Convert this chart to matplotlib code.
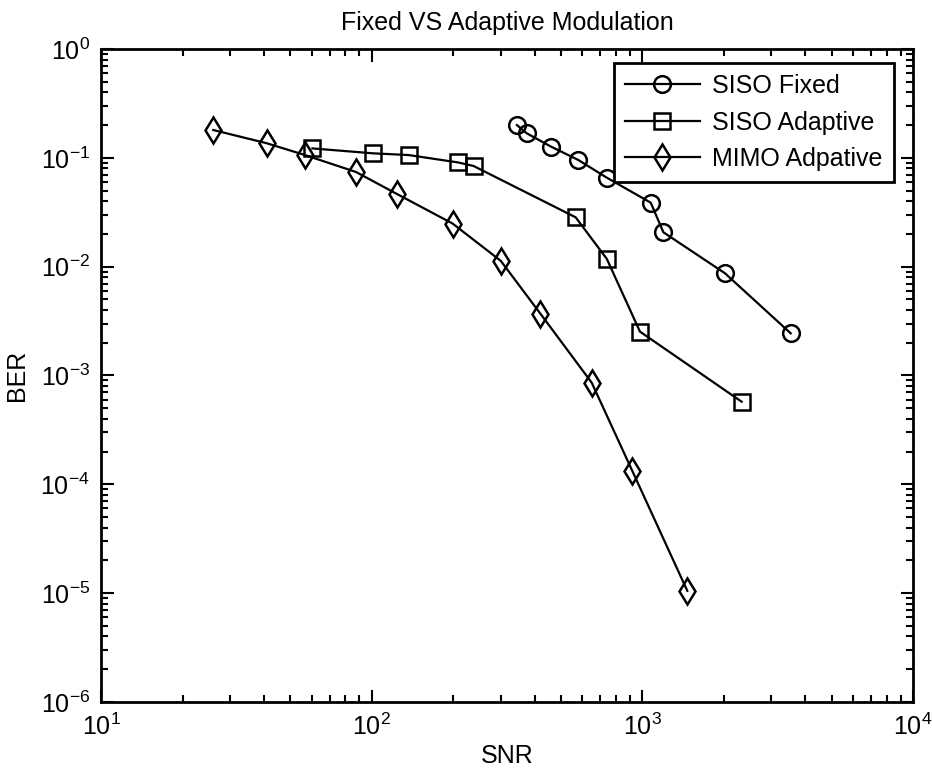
import matplotlib
matplotlib.use('Agg')
import matplotlib.pyplot as plt
from matplotlib.ticker import LogLocator, NullFormatter, FixedLocator

plt.rcParams['font.family'] = ['Liberation Sans', 'DejaVu Sans']

# SISO fixed modulation
snr_siso_fixed = [344, 374, 459, 580, 739, 1074, 1196, 2020, 3533]
ber_siso_fixed = [0.200, 0.168, 0.127, 0.0955, 0.0657, 0.0387, 0.0207, 0.00869, 0.00244]

# SISO adaptive modulation
snr_siso_adapt = [60.4, 101, 137, 209, 238, 567, 739, 980, 2328]
ber_siso_adapt = [0.122, 0.110, 0.106, 0.0906, 0.0841, 0.0284, 0.0118, 0.00253, 0.000574]

# MIMO adaptive modulation
snr_mimo_adapt = [26, 41, 56.7, 87.5, 124, 199, 300, 420, 650, 918, 1466]
ber_mimo_adapt = [0.18, 0.136, 0.106, 0.0741, 0.0465, 0.0249, 0.0113, 0.0037, 0.000859, 0.000133, 1.05e-5]

x_ticks = [1e1, 1e2, 1e3, 1e4]
y_ticks = [1e-6, 1e-5, 1e-4, 1e-3, 1e-2, 1e-1, 1e0]

fig = plt.figure(figsize=(9.32, 7.75), dpi=100)
ax = fig.add_axes([0.1084, 0.0942, 0.8712, 0.8426])

style = dict(color='black', lw=1.6, mfc='none', mec='black', mew=1.8)
ax.loglog(snr_siso_fixed, ber_siso_fixed, marker='o', ms=12, label='SISO Fixed', **style)
ax.loglog(snr_siso_adapt, ber_siso_adapt, marker='s', ms=12, label='SISO Adaptive', **style)
ax.loglog(snr_mimo_adapt, ber_mimo_adapt, marker='d', ms=13, label='MIMO Adpative', **style)

ax.set_xlim(10, 1e4)
ax.set_ylim(1e-6, 1)
ax.xaxis.set_major_locator(FixedLocator(x_ticks))
ax.yaxis.set_major_locator(FixedLocator(y_ticks))
ax.xaxis.set_minor_locator(LogLocator(base=10, subs=range(2, 10), numticks=20))
ax.yaxis.set_minor_locator(LogLocator(base=10, subs=range(2, 10), numticks=20))
ax.xaxis.set_minor_formatter(NullFormatter())
ax.yaxis.set_minor_formatter(NullFormatter())

ax.tick_params(which='both', direction='in', top=True, right=True, labelsize=18, width=1.5)
ax.tick_params(which='major', length=9, pad=8)
ax.tick_params(which='minor', length=5)
for s in ax.spines.values():
    s.set_linewidth(2)

ax.set_title('Fixed VS Adaptive Modulation', fontsize=18, pad=14)
ax.set_xlabel('SNR', fontsize=18, labelpad=3)
ax.set_ylabel('BER', fontsize=18, labelpad=8)

leg = ax.legend(loc='upper right', bbox_to_anchor=(0.9766, 0.9786), borderaxespad=0,
                fontsize=18, frameon=True, fancybox=False, framealpha=1,
                edgecolor='black', handlelength=3.0,
                labelspacing=0.5, borderpad=0.45, handletextpad=0.5)
leg.get_frame().set_linewidth(2)

fig.savefig('out.png', dpi=100)
